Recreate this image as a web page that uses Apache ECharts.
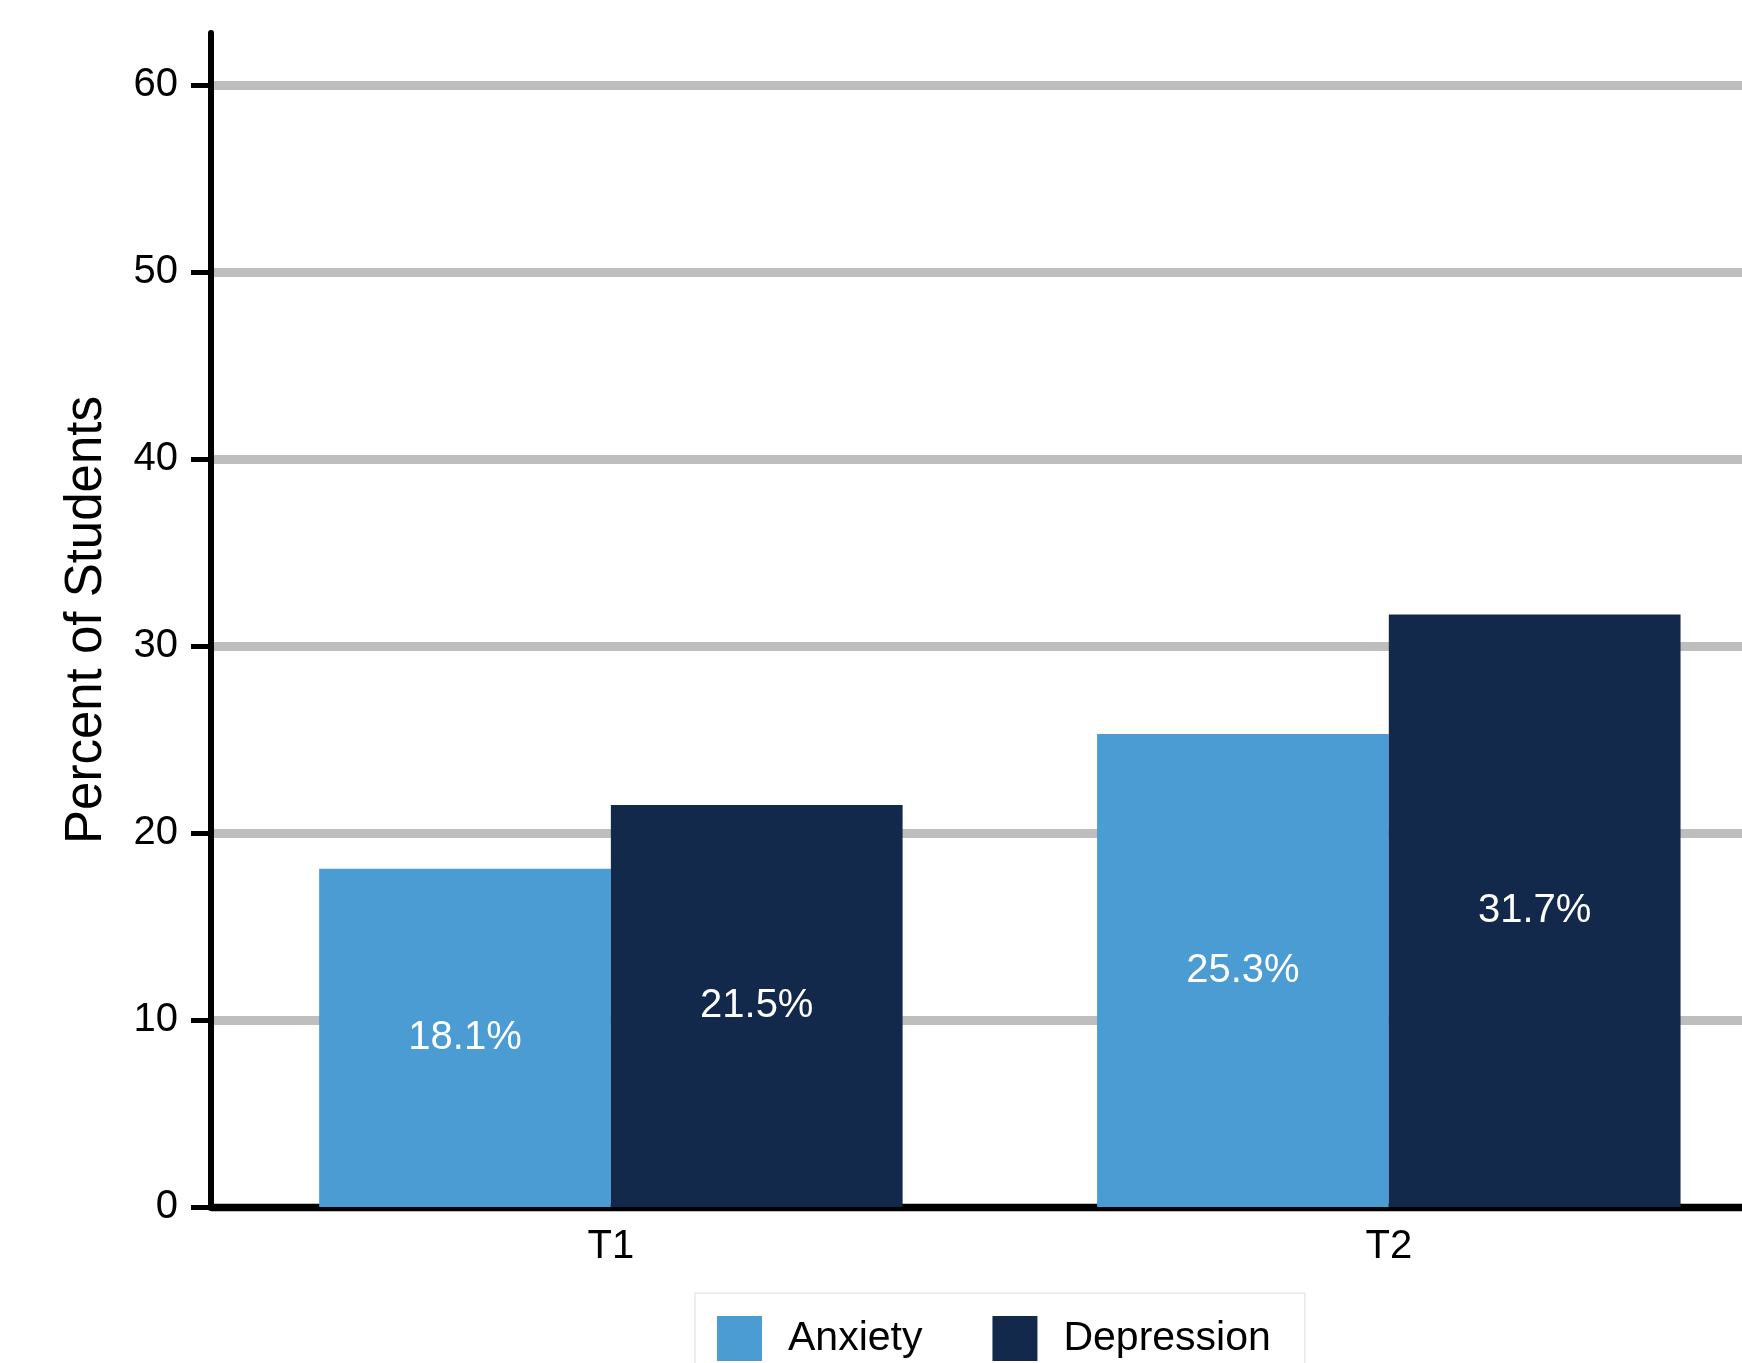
<!DOCTYPE html>
<html lang="en">

<head>
  <meta charset="utf-8">
  <title>Anxiety and Depression</title>
  <style>
    * {
      margin: 0;
      padding: 0;
    }

    #chart-container {
      width: 1742px;
      height: 1363px;
      overflow: hidden;
      background: #fff;
    }
  </style>
</head>

<body>
  <div id="chart-container"></div>
  <script src="https://cdn.jsdelivr.net/npm/echarts@6/dist/echarts.min.js"></script>
  <script>
    var dom = document.getElementById('chart-container');
    var myChart = echarts.init(dom, null, { renderer: 'canvas' });

    // data
    const categories = ['T1', 'T2'];
    const categoryPos = [1, 2];
    const anxiety = [18.1, 25.3];
    const depression = [21.5, 31.7];
    const yTicks = [0, 10, 20, 30, 40, 50, 60];

    const font = 'Liberation Sans, Arial, Helvetica, sans-serif';

    function pairs(values) {
      return values.map(function (v, i) { return [categoryPos[i], v]; });
    }

    function barLabel() {
      return {
        show: true,
        position: 'inside',
        color: '#ffffff',
        fontFamily: font,
        fontSize: 40,
        formatter: function (p) { return p.value[1] + '%'; }
      };
    }

    var option = {
      animation: false,
      backgroundColor: '#ffffff',
      grid: {
        left: 211,
        right: 0,
        top: 33,
        bottom: 156
      },
      legend: {
        left: 695,
        top: 1293,
        padding: [23, 34, 23, 22],
        borderColor: '#dddddd',
        borderWidth: 1,
        itemWidth: 45,
        itemHeight: 45,
        itemGap: 70,
        icon: 'rect',
        textStyle: {
          fontFamily: font,
          fontSize: 41,
          color: '#000',
          padding: [0, 0, 0, 21]
        },
        data: ['Anxiety', 'Depression']
      },
      xAxis: {
        type: 'value',
        min: 0.486,
        max: 2.454,
        splitLine: { show: false },
        axisTick: { show: false },
        axisLine: { show: true, lineStyle: { color: '#000', width: 7 } },
        axisLabel: {
          customValues: categoryPos,
          margin: 20,
          fontFamily: font,
          fontSize: 40,
          color: '#000',
          formatter: function (v) {
            var i = categoryPos.indexOf(v);
            return i >= 0 ? categories[i] : '';
          }
        }
      },
      yAxis: {
        type: 'value',
        min: 0,
        max: 62.8,
        interval: 10,
        name: 'Percent of Students',
        nameLocation: 'middle',
        nameGap: 99,
        nameTextStyle: { fontFamily: font, fontSize: 51, color: '#000' },
        axisLine: { show: true, lineStyle: { color: '#000', width: 6 } },
        axisTick: {
          show: true,
          customValues: yTicks,
          length: 20,
          lineStyle: { color: '#000', width: 5 }
        },
        axisLabel: {
          customValues: yTicks,
          margin: 33,
          fontFamily: font,
          fontSize: 40,
          color: '#000'
        },
        splitLine: {
          show: true,
          lineStyle: { color: '#bebebe', width: 9 }
        }
      },
      series: [
        {
          name: 'Anxiety',
          type: 'bar',
          data: pairs(anxiety),
          barGap: '0%',
          barCategoryGap: '25%',
          itemStyle: { color: '#4B9CD3' },
          label: barLabel()
        },
        {
          name: 'Depression',
          type: 'bar',
          data: pairs(depression),
          barGap: '0%',
          barCategoryGap: '25%',
          itemStyle: { color: '#13294B' },
          label: barLabel()
        }
      ]
    };

    myChart.setOption(option);
    window.addEventListener('resize', myChart.resize);
  </script>
</body>

</html>
